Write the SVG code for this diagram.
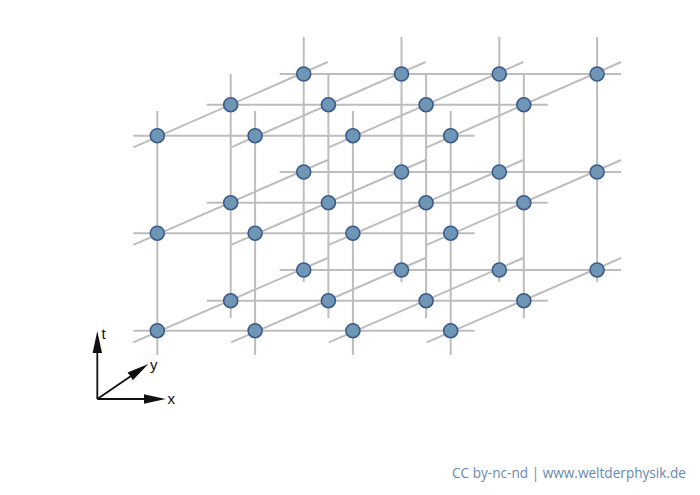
<svg xmlns="http://www.w3.org/2000/svg" width="700" height="495" viewBox="0 0 700 495">
<style>
.g{stroke:#bdbdbd;stroke-width:2;fill:none}
.n{fill:#7096b5;stroke:#3b5a8c;stroke-width:1.6}
.ax{stroke:#111;stroke-width:1.8;fill:none}
.lbl{font-family:"Liberation Sans",Arial,sans-serif;font-size:15px;fill:#111}
.ft{font-family:"Open Sans","Noto Sans",sans-serif;font-size:14px;fill:#6888b0}
</style>
<defs>
<marker id="ah" markerUnits="userSpaceOnUse" markerWidth="24" markerHeight="12" viewBox="0 -6 24 12" refX="1" refY="0" orient="auto">
<path d="M0,-4.7 L22,0 L0,4.7 z" fill="#111"/>
</marker>
<circle id="nd" r="7" class="n"/>
</defs>
<rect width="700" height="495" fill="#fff"/>
<g id="connectors">
<line class="g" x1="133.3" y1="330.7" x2="474.7" y2="330.7"/>
<line class="g" x1="133.3" y1="233.2" x2="474.7" y2="233.2"/>
<line class="g" x1="133.3" y1="135.7" x2="474.7" y2="135.7"/>
<line class="g" x1="206.7" y1="300.7" x2="547.8" y2="300.7"/>
<line class="g" x1="206.7" y1="202.7" x2="547.8" y2="202.7"/>
<line class="g" x1="206.7" y1="104.7" x2="547.8" y2="104.7"/>
<line class="g" x1="279.7" y1="270" x2="621.1" y2="270"/>
<line class="g" x1="279.7" y1="172" x2="621.1" y2="172"/>
<line class="g" x1="279.7" y1="74" x2="621.1" y2="74"/>
<line class="g" x1="157.3" y1="111" x2="157.3" y2="355"/>
<line class="g" x1="255.1" y1="111" x2="255.1" y2="355"/>
<line class="g" x1="352.9" y1="111" x2="352.9" y2="355"/>
<line class="g" x1="450.7" y1="111" x2="450.7" y2="355"/>
<line class="g" x1="230.7" y1="74" x2="230.7" y2="318"/>
<line class="g" x1="328.4" y1="74" x2="328.4" y2="318"/>
<line class="g" x1="426.1" y1="74" x2="426.1" y2="318"/>
<line class="g" x1="523.8" y1="74" x2="523.8" y2="318"/>
<line class="g" x1="303.7" y1="37" x2="303.7" y2="282"/>
<line class="g" x1="401.5" y1="37" x2="401.5" y2="282"/>
<line class="g" x1="499.3" y1="37" x2="499.3" y2="282"/>
<line class="g" x1="597.1" y1="37" x2="597.1" y2="282"/>
<line class="g" x1="133.3" y1="342.4" x2="327.7" y2="258"/>
<line class="g" x1="231.1" y1="342.4" x2="425.5" y2="258"/>
<line class="g" x1="328.9" y1="342.4" x2="523.3" y2="258"/>
<line class="g" x1="426.7" y1="342.4" x2="621.1" y2="258"/>
<line class="g" x1="133.3" y1="244.9" x2="327.7" y2="160"/>
<line class="g" x1="231.1" y1="244.9" x2="425.5" y2="160"/>
<line class="g" x1="328.9" y1="244.9" x2="523.3" y2="160"/>
<line class="g" x1="426.7" y1="244.9" x2="621.1" y2="160"/>
<line class="g" x1="133.3" y1="147.4" x2="327.7" y2="62"/>
<line class="g" x1="231.1" y1="147.4" x2="425.5" y2="62"/>
<line class="g" x1="328.9" y1="147.4" x2="523.3" y2="62"/>
<line class="g" x1="426.7" y1="147.4" x2="621.1" y2="62"/>
</g>
<g id="nodes-back">
<g id="n-x0-y2-t0"><use href="#nd" x="303.7" y="270"/></g>
<g id="n-x1-y2-t0"><use href="#nd" x="401.5" y="270"/></g>
<g id="n-x2-y2-t0"><use href="#nd" x="499.3" y="270"/></g>
<g id="n-x3-y2-t0"><use href="#nd" x="597.1" y="270"/></g>
<g id="n-x0-y2-t1"><use href="#nd" x="303.7" y="172"/></g>
<g id="n-x1-y2-t1"><use href="#nd" x="401.5" y="172"/></g>
<g id="n-x2-y2-t1"><use href="#nd" x="499.3" y="172"/></g>
<g id="n-x3-y2-t1"><use href="#nd" x="597.1" y="172"/></g>
<g id="n-x0-y2-t2"><use href="#nd" x="303.7" y="74"/></g>
<g id="n-x1-y2-t2"><use href="#nd" x="401.5" y="74"/></g>
<g id="n-x2-y2-t2"><use href="#nd" x="499.3" y="74"/></g>
<g id="n-x3-y2-t2"><use href="#nd" x="597.1" y="74"/></g>
</g>
<g id="nodes-middle">
<g id="n-x0-y1-t0"><use href="#nd" x="230.7" y="300.7"/></g>
<g id="n-x1-y1-t0"><use href="#nd" x="328.4" y="300.7"/></g>
<g id="n-x2-y1-t0"><use href="#nd" x="426.1" y="300.7"/></g>
<g id="n-x3-y1-t0"><use href="#nd" x="523.8" y="300.7"/></g>
<g id="n-x0-y1-t1"><use href="#nd" x="230.7" y="202.7"/></g>
<g id="n-x1-y1-t1"><use href="#nd" x="328.4" y="202.7"/></g>
<g id="n-x2-y1-t1"><use href="#nd" x="426.1" y="202.7"/></g>
<g id="n-x3-y1-t1"><use href="#nd" x="523.8" y="202.7"/></g>
<g id="n-x0-y1-t2"><use href="#nd" x="230.7" y="104.7"/></g>
<g id="n-x1-y1-t2"><use href="#nd" x="328.4" y="104.7"/></g>
<g id="n-x2-y1-t2"><use href="#nd" x="426.1" y="104.7"/></g>
<g id="n-x3-y1-t2"><use href="#nd" x="523.8" y="104.7"/></g>
</g>
<g id="nodes-front">
<g id="n-x0-y0-t0"><use href="#nd" x="157.3" y="330.7"/></g>
<g id="n-x1-y0-t0"><use href="#nd" x="255.1" y="330.7"/></g>
<g id="n-x2-y0-t0"><use href="#nd" x="352.9" y="330.7"/></g>
<g id="n-x3-y0-t0"><use href="#nd" x="450.7" y="330.7"/></g>
<g id="n-x0-y0-t1"><use href="#nd" x="157.3" y="233.2"/></g>
<g id="n-x1-y0-t1"><use href="#nd" x="255.1" y="233.2"/></g>
<g id="n-x2-y0-t1"><use href="#nd" x="352.9" y="233.2"/></g>
<g id="n-x3-y0-t1"><use href="#nd" x="450.7" y="233.2"/></g>
<g id="n-x0-y0-t2"><use href="#nd" x="157.3" y="135.7"/></g>
<g id="n-x1-y0-t2"><use href="#nd" x="255.1" y="135.7"/></g>
<g id="n-x2-y0-t2"><use href="#nd" x="352.9" y="135.7"/></g>
<g id="n-x3-y0-t2"><use href="#nd" x="450.7" y="135.7"/></g>
</g>
<g id="axes">
<line class="ax" x1="97.3" y1="399" x2="97.3" y2="352" marker-end="url(#ah)"/>
<line class="ax" x1="97.3" y1="399" x2="144.7" y2="399" marker-end="url(#ah)"/>
<line class="ax" x1="97.3" y1="399" x2="131" y2="375.9" marker-end="url(#ah)"/>
<text class="lbl" x="101.5" y="339">t</text>
<text class="lbl" x="150" y="370">y</text>
<text class="lbl" x="167.5" y="404">x</text>
</g>
<text class="ft" x="452" y="477.5" textLength="234" lengthAdjust="spacingAndGlyphs">CC by-nc-nd | www.weltderphysik.de</text>
</svg>
